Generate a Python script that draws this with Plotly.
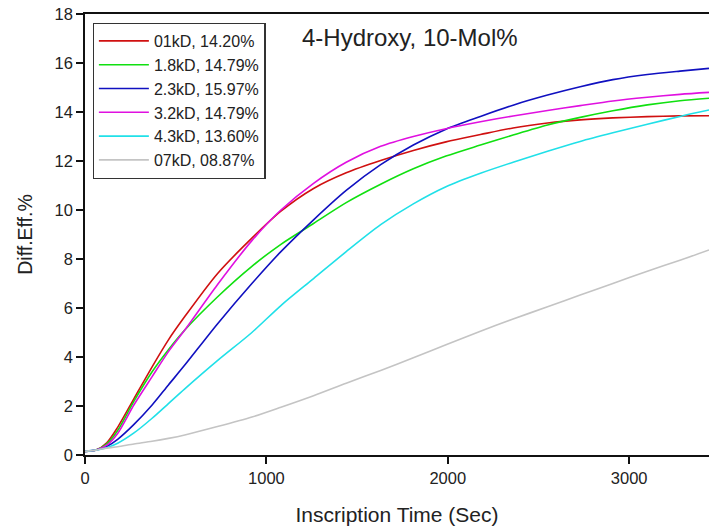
import plotly.graph_objects as go

# Inscription time (s)
time_s = [0, 60, 120, 180, 270, 370, 460, 550, 730, 920, 1080, 1260, 1440,
          1630, 1810, 1990, 2180, 2360, 2550, 2730, 2910, 3100, 3280, 3440]

names = ["01kD, 14.20%", "1.8kD, 14.79%", "2.3kD, 15.97%",
         "3.2kD, 14.79%", "4.3kD, 13.60%", "07kD, 08.87%"]

eff_01kD = [0.15, 0.2, 0.5, 1.13, 2.3, 3.6, 4.7, 5.65, 7.4, 8.85, 9.95, 10.88, 11.52,
            12.02, 12.43, 12.78, 13.08, 13.35, 13.55, 13.68, 13.76, 13.81, 13.84, 13.85]
eff_18kD = [0.15, 0.2, 0.45, 1.0, 2.2, 3.4, 4.3, 5.1, 6.45, 7.7, 8.6, 9.45, 10.3,
            11.05, 11.68, 12.2, 12.65, 13.06, 13.47, 13.78, 14.05, 14.29, 14.46, 14.56]
eff_23kD = [0.15, 0.2, 0.35, 0.64, 1.25, 2.04, 2.86, 3.67, 5.35, 7.0, 8.3, 9.6, 10.8,
            11.85, 12.65, 13.3, 13.82, 14.28, 14.69, 15.03, 15.32, 15.53, 15.67, 15.78]
eff_32kD = [0.15, 0.2, 0.4, 0.88, 2.05, 3.2, 4.22, 5.1, 6.95, 8.75, 10.0, 11.09, 11.95,
            12.6, 13.0, 13.32, 13.6, 13.84, 14.06, 14.26, 14.45, 14.6, 14.72, 14.8]
eff_43kD = [0.15, 0.2, 0.3, 0.48, 0.9, 1.5, 2.1, 2.7, 3.85, 5.0, 6.1, 7.2, 8.3,
            9.4, 10.25, 10.95, 11.5, 11.95, 12.4, 12.8, 13.15, 13.5, 13.82, 14.08]
eff_07kD = [0.15, 0.2, 0.28, 0.34, 0.45, 0.56, 0.68, 0.82, 1.16, 1.55, 1.95, 2.42, 2.93,
            3.45, 3.97, 4.5, 5.05, 5.55, 6.05, 6.53, 7.0, 7.5, 7.95, 8.37]

series = [eff_01kD, eff_18kD, eff_23kD, eff_32kD, eff_43kD, eff_07kD]
colors = ["#d01010", "#10e010", "#1010c0", "#e010e0", "#20e0e8", "#c4c4c4"]

x_ticks = [0, 1000, 2000, 3000]
y_ticks = list(range(0, 19, 2))

FONT = "Liberation Sans, Arial, sans-serif"
TXT = "#222222"

fig = go.Figure()
for name, vals, col in zip(names, series, colors):
    fig.add_trace(go.Scatter(x=time_s, y=vals, mode="lines", name=name,
                             line=dict(color=col, width=1.6, shape="spline", smoothing=0.8)))

fig.update_layout(
    width=709, height=531,
    margin=dict(l=85, r=0, t=14, b=76),
    paper_bgcolor="white", plot_bgcolor="white",
    font=dict(family=FONT, color=TXT, size=16),
    showlegend=True,
    legend=dict(x=0.0123, y=0.98, xanchor="left", yanchor="top",
                bordercolor="#333333", borderwidth=1.2, bgcolor="white",
                font=dict(size=16, family=FONT, color=TXT),
                itemwidth=50, entrywidth=199, entrywidthmode="pixels",
                tracegroupgap=0),
    xaxis=dict(range=[0, 3440], tickvals=x_ticks, ticktext=[str(v) for v in x_ticks],
               showline=True, linecolor="#111111", linewidth=1.5, mirror=True,
               ticks="outside", ticklen=7, tickwidth=1.5, tickcolor="#111111",
               showgrid=False, zeroline=False,
               tickfont=dict(size=16.5, family=FONT, color=TXT),
               title=dict(text="Inscription Time (Sec)", standoff=22,
                          font=dict(size=21, family=FONT, color=TXT))),
    yaxis=dict(range=[0, 18], tickvals=y_ticks, ticktext=[str(v) for v in y_ticks],
               showline=True, linecolor="#111111", linewidth=1.5, mirror=False,
               ticks="outside", ticklen=7, tickwidth=1.5, tickcolor="#111111",
               showgrid=False, zeroline=False,
               tickfont=dict(size=16.5, family=FONT, color=TXT),
               title=dict(text="Diff.Eff.%", standoff=17,
                          font=dict(size=19.5, family=FONT, color=TXT))),
    annotations=[dict(text="4-Hydroxy, 10-Mol%", xref="paper", yref="paper",
                      x=0.3446, y=0.9456, xanchor="left", yanchor="middle",
                      showarrow=False, font=dict(size=24, family=FONT, color=TXT))],
)

fig.write_html("out.html")
